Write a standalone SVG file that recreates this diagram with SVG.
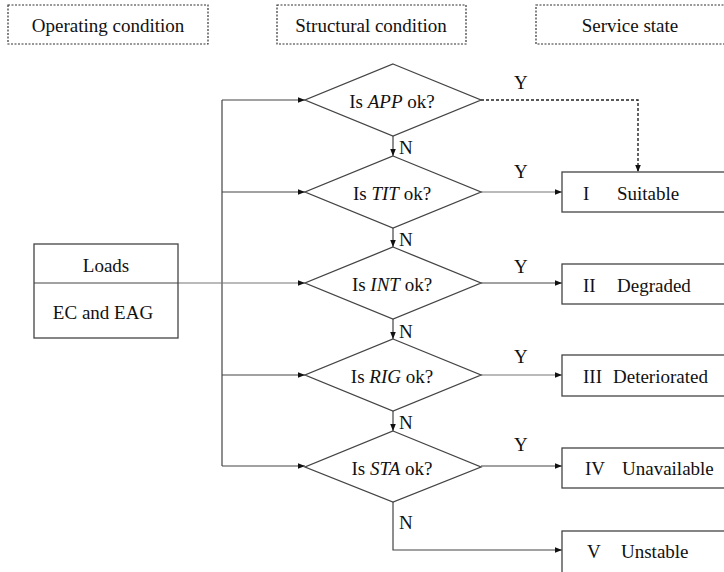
<svg xmlns="http://www.w3.org/2000/svg" width="724" height="572" viewBox="0 0 724 572" font-family="Liberation Serif, Times New Roman, serif">
  <style>
    text { font-family: Liberation Serif, Times New Roman, serif; font-size: 19px; fill: #111; }
    .mid { text-anchor: middle; dominant-baseline: central; }
    .lbl { dominant-baseline: central; }
    .hdr { fill: #fff; stroke: #333; stroke-width: 1.2; stroke-dasharray: 2 1.5; }
    .box { fill: #fff; stroke: #444; stroke-width: 1.3; }
    .dia { fill: #fff; stroke: #444; stroke-width: 1.3; }
    .ln { fill: none; stroke: #444; stroke-width: 1.2; }
    .lt { fill: none; stroke: #777; stroke-width: 1.2; }
    .dash { fill: none; stroke: #222; stroke-width: 1.4; stroke-dasharray: 3 2; }
    .arr { marker-end: url(#ah); }
  </style>
  <defs>
    <marker id="ah" viewBox="0 0 10 10" refX="10" refY="5" markerWidth="7" markerHeight="7" markerUnits="userSpaceOnUse" orient="auto">
      <path d="M0,1 L10,5 L0,9 Z" fill="#111"/>
    </marker>
  </defs>

  <!-- column headers -->
  <g id="hdr-operating">
    <rect class="hdr" x="8" y="5" width="200" height="39"/>
    <text class="mid" x="108" y="25">Operating condition</text>
  </g>
  <g id="hdr-structural">
    <rect class="hdr" x="277" y="5" width="189" height="39"/>
    <text class="mid" x="371" y="25">Structural condition</text>
  </g>
  <g id="hdr-service">
    <rect class="hdr" x="536" y="5" width="194" height="39"/>
    <text class="mid" x="630" y="25">Service state</text>
  </g>

  <!-- connectors -->
  <g id="connectors">
    <!-- feed bus from the loads -->
    <path class="ln" d="M222,100 V466"/>
    <path class="ln arr" d="M222,100 H305"/>
    <path class="ln arr" d="M222,192 H305"/>
    <path class="lt arr" d="M178,283 H305"/>
    <path class="ln arr" d="M222,375 H305"/>
    <path class="ln arr" d="M222,466 H305"/>
    <!-- N branches -->
    <path class="ln arr" d="M393,136 V156"/>
    <path class="ln arr" d="M393,228 V247"/>
    <path class="ln arr" d="M393,319 V339"/>
    <path class="ln arr" d="M393,411 V431"/>
    <path class="ln arr" d="M393,502 V550 H562"/>
    <!-- Y branches -->
    <path class="dash arr" d="M481,100 H638 V172"/>
    <path class="lt arr" d="M481,192 H562"/>
    <path class="ln arr" d="M481,283 H562"/>
    <path class="lt arr" d="M481,375 H562"/>
    <path class="ln arr" d="M481,466 H562"/>
    <!-- branch labels -->
    <text class="lbl" x="514" y="82">Y</text>
    <text class="lbl" x="514" y="171">Y</text>
    <text class="lbl" x="514" y="266">Y</text>
    <text class="lbl" x="514" y="356">Y</text>
    <text class="lbl" x="514" y="444">Y</text>
    <text class="lbl" x="399" y="147">N</text>
    <text class="lbl" x="399" y="239">N</text>
    <text class="lbl" x="399" y="331">N</text>
    <text class="lbl" x="399" y="422">N</text>
    <text class="lbl" x="399" y="522">N</text>
  </g>

  <!-- operating condition -->
  <g id="loads">
    <rect class="box" x="34" y="244" width="144" height="94"/>
    <path class="ln" d="M34,283 H178"/>
    <text class="mid" x="106" y="265">Loads</text>
    <text class="mid" x="103" y="312">EC and EAG</text>
  </g>

  <!-- structural checks -->
  <g id="check-app">
    <polygon class="dia" points="393,64 481,100 393,136 305,100"/>
    <text class="mid" x="392" y="101">Is <tspan font-style="italic">APP</tspan> ok?</text>
  </g>
  <g id="check-tit">
    <polygon class="dia" points="393,156 481,192 393,228 305,192"/>
    <text class="mid" x="392" y="193">Is <tspan font-style="italic">TIT</tspan> ok?</text>
  </g>
  <g id="check-int">
    <polygon class="dia" points="393,247 481,283 393,319 305,283"/>
    <text class="mid" x="392" y="284">Is <tspan font-style="italic">INT</tspan> ok?</text>
  </g>
  <g id="check-rig">
    <polygon class="dia" points="393,339 481,375 393,411 305,375"/>
    <text class="mid" x="392" y="376">Is <tspan font-style="italic">RIG</tspan> ok?</text>
  </g>
  <g id="check-sta">
    <polygon class="dia" points="393,431 481,467 393,502 305,467"/>
    <text class="mid" x="392" y="468">Is <tspan font-style="italic">STA</tspan> ok?</text>
  </g>

  <!-- service states -->
  <g id="state-1">
    <rect class="box" x="562" y="172" width="170" height="40"/>
    <text class="lbl" x="583" y="193">I</text>
    <text class="lbl" x="617" y="193">Suitable</text>
  </g>
  <g id="state-2">
    <rect class="box" x="562" y="264" width="170" height="40"/>
    <text class="lbl" x="583" y="285">II</text>
    <text class="lbl" x="617" y="285">Degraded</text>
  </g>
  <g id="state-3">
    <rect class="box" x="562" y="355" width="170" height="41"/>
    <text class="lbl" x="583" y="376">III</text>
    <text class="lbl" x="613" y="376">Deteriorated</text>
  </g>
  <g id="state-4">
    <rect class="box" x="562" y="448" width="170" height="40"/>
    <text class="lbl" x="585" y="468">IV</text>
    <text class="lbl" x="622" y="468">Unavailable</text>
  </g>
  <g id="state-5">
    <rect class="box" x="562" y="531" width="170" height="45"/>
    <text class="lbl" x="587" y="551">V</text>
    <text class="lbl" x="621" y="551">Unstable</text>
  </g>
</svg>
